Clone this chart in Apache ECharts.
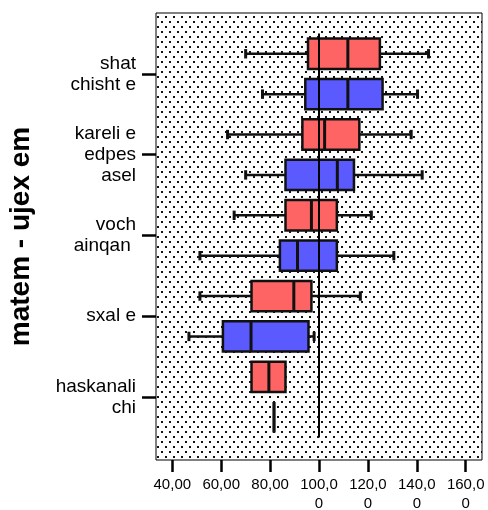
<!DOCTYPE html>
<html>
<head>
<meta charset="utf-8">
<script src="https://cdn.jsdelivr.net/npm/echarts@6/dist/echarts.min.js"></script>
<style>
  html, body { margin: 0; padding: 0; background: #fff; }
  #chart { width: 488px; height: 510px; }
</style>
</head>
<body>
<div id="chart"></div>
<script>
// Group labels on the vertical axis (top to bottom)
const groupLabels = ['shat\nchisht e', 'kareli e\nedpes\nasel', 'voch\nainqan ', 'sxal e', 'haskanali\nchi'];

// Five-number summaries per group: [min, Q1, median, Q3, max]
const upperBoxes = [
  [70.0, 95.5, 111.8, 124.9, 144.8],
  [62.6, 93.2, 102.3, 116.5, 137.7],
  [65.3, 86.3, 96.9, 107.3, 121.4],
  [51.3, 72.4, 89.7, 96.9, 116.9],
  [72.4, 72.4, 79.5, 86.3, 86.3]
];
const lowerBoxes = [
  [76.9, 94.4, 111.8, 126.0, 140.3],
  [70.0, 86.3, 107.5, 114.3, 142.2],
  [51.3, 84.0, 91.2, 107.3, 130.6],
  [46.8, 60.7, 72.2, 95.7, 98.0],
  [81.6, 81.6, 81.6, 81.6, 81.6]
];

const referenceValue = 100;

const xTicks = [40, 60, 80, 100, 120, 140, 160];
const xTickLabels = ['40,00', '60,00', '80,00', '100,00', '120,00', '140,00', '160,00'];
const axisTitle = 'matem - ujex em';

const FONT = 'Arial, "Liberation Sans", sans-serif';
const BOX_HALF = 0.188;   // half box height, in group units
const CAP_HALF = 0.058;   // half whisker-cap height
const ROW_OFFSET = 0.25;  // distance of each box from its group centre

// Dotted fill for the plotting area
const tile = document.createElement('canvas');
tile.width = 8; tile.height = 10;
const tg = tile.getContext('2d');
tg.fillStyle = '#ffffff';
tg.fillRect(0, 0, 8, 10);
tg.fillStyle = '#111111';
tg.fillRect(1, 1, 2, 2);
tg.fillRect(5, 6, 2, 2);

function boxRenderer(offset, fill) {
  return function (params, api) {
    const row = api.value(0) + offset;
    const xs = [1, 2, 3, 4, 5].map(k => api.coord([api.value(k), row])[0]);
    const yc = api.coord([0, row])[1];
    const yTop = api.coord([0, row - BOX_HALF])[1];
    const yBot = api.coord([0, row + BOX_HALF])[1];
    const cTop = api.coord([0, row - CAP_HALF])[1];
    const cBot = api.coord([0, row + CAP_HALF])[1];
    const dark = '#111';
    const children = [];
    if (xs[1] > xs[0]) {
      children.push({ type: 'line', shape: { x1: xs[0], y1: yc, x2: xs[1], y2: yc }, style: { stroke: dark, lineWidth: 2.5 } });
      children.push({ type: 'line', shape: { x1: xs[0], y1: cTop, x2: xs[0], y2: cBot }, style: { stroke: dark, lineWidth: 3 } });
    }
    if (xs[4] > xs[3]) {
      children.push({ type: 'line', shape: { x1: xs[3], y1: yc, x2: xs[4], y2: yc }, style: { stroke: dark, lineWidth: 2.5 } });
      children.push({ type: 'line', shape: { x1: xs[4], y1: cTop, x2: xs[4], y2: cBot }, style: { stroke: dark, lineWidth: 3 } });
    }
    children.push({
      type: 'rect',
      shape: { x: xs[1], y: yTop, width: xs[3] - xs[1], height: yBot - yTop },
      style: { fill: fill, stroke: dark, lineWidth: 2.5 }
    });
    children.push({ type: 'line', shape: { x1: xs[2], y1: yTop, x2: xs[2], y2: yBot }, style: { stroke: dark, lineWidth: 3 } });
    return { type: 'group', children: children };
  };
}

const chart = echarts.init(document.getElementById('chart'), null, { renderer: 'canvas' });

chart.setOption({
  backgroundColor: '#ffffff',
  animation: false,
  textStyle: { fontFamily: FONT },
  grid: {
    left: 156, right: 6, top: 13, bottom: 50,
    outerBoundsMode: 'none',
    containLabel: false,
    show: true,
    backgroundColor: { image: tile, repeat: 'repeat' },
    borderColor: '#000',
    borderWidth: 1
  },
  xAxis: {
    type: 'value',
    min: 40 - 20 / 3,
    max: 160 + 20 / 3,
    axisLine: { show: false, onZero: false },
    splitLine: { show: false },
    axisTick: { show: true, customValues: xTicks, length: 12, lineStyle: { color: '#000', width: 2.5 } },
    axisLabel: {
      customValues: xTicks,
      formatter: v => xTickLabels[xTicks.indexOf(v)],
      fontSize: 15, color: '#000', fontFamily: FONT,
      lineHeight: 19, width: 40, overflow: 'breakAll',
      margin: 15
    }
  },
  yAxis: {
    type: 'value',
    inverse: true,
    min: -0.755,
    max: 4.78,
    axisLine: { show: false, onZero: false },
    splitLine: { show: false },
    axisTick: { show: true, customValues: [0, 1, 2, 3, 4], length: 14, lineStyle: { color: '#000', width: 2.5 } },
    axisLabel: {
      customValues: [0, 1, 2, 3, 4],
      formatter: v => groupLabels[Math.round(v)],
      fontSize: 19, lineHeight: 21, color: '#000', fontFamily: FONT,
      margin: 20
    },
    name: axisTitle,
    nameLocation: 'middle',
    nameRotate: 90,
    nameGap: 121,
    nameTextStyle: { fontSize: 28, fontWeight: 'bold', color: '#000', fontFamily: FONT }
  },
  series: [
    {
      type: 'custom',
      renderItem: boxRenderer(-ROW_OFFSET, '#ff6464'),
      encode: { x: [1, 2, 3, 4, 5], y: 0 },
      data: upperBoxes.map((b, i) => [i].concat(b)),
      z: 2
    },
    {
      type: 'custom',
      renderItem: boxRenderer(ROW_OFFSET, '#5a5aff'),
      encode: { x: [1, 2, 3, 4, 5], y: 0 },
      data: lowerBoxes.map((b, i) => [i].concat(b)),
      z: 2
    },
    {
      type: 'line',
      data: [[referenceValue, -0.5], [referenceValue, groupLabels.length - 0.5]],
      symbol: 'none',
      lineStyle: { color: '#000', width: 2 },
      z: 5,
      silent: true
    }
  ]
});
</script>
</body>
</html>
